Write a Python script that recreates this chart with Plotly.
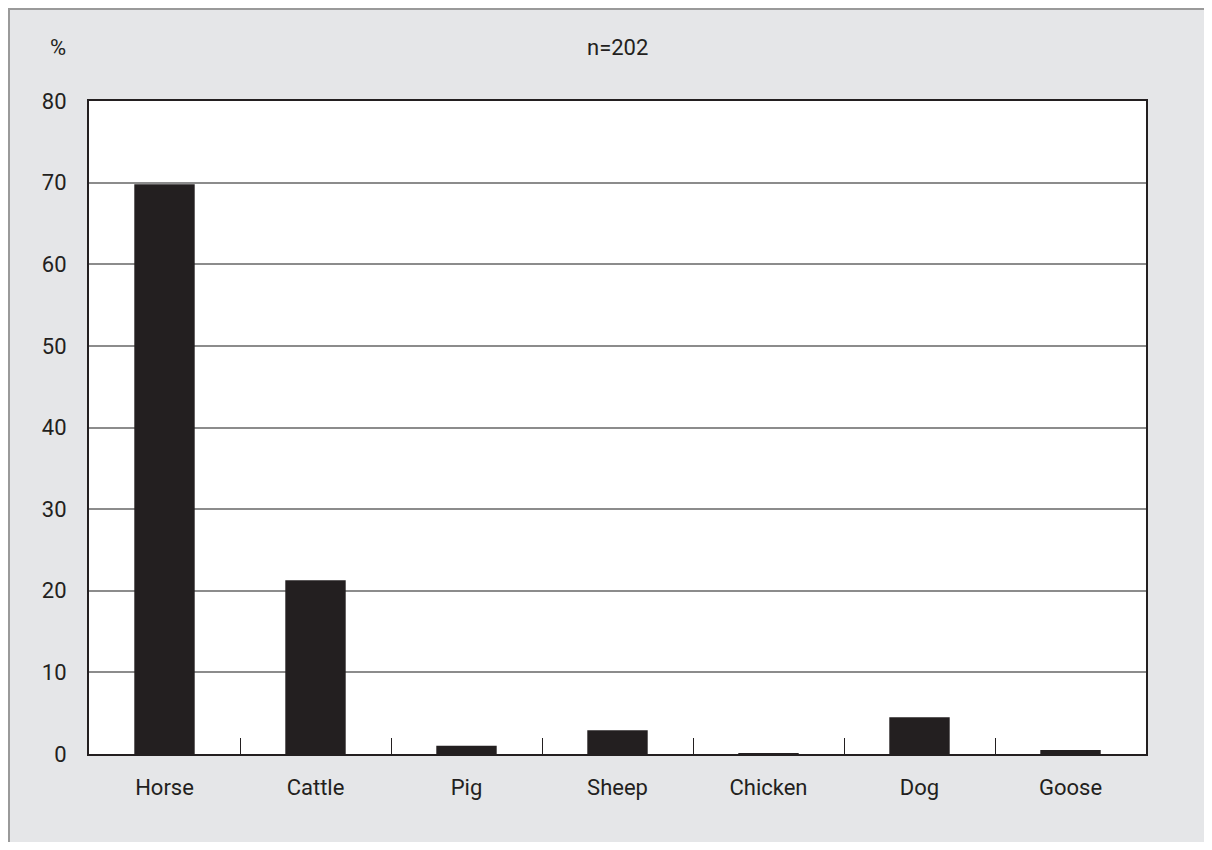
import plotly.graph_objects as go

categories = ["Horse", "Cattle", "Pig", "Sheep", "Chicken", "Dog", "Goose"]
percent = [69.8, 21.3, 1.0, 2.9, 0.05, 4.5, 0.5]
y_ticks = [0, 10, 20, 30, 40, 50, 60, 70, 80]

BG = "#e5e6e8"
INK = "#231f20"
GRID = "#8c8c8c"
FONT = "Roboto, sans-serif"

# page body has an 8px margin, so the figure is sized to fit inside it
W, H = 1196, 834
L, T = 81, 93
pw, ph = 1057, 653
R, B = W - L - pw, H - T - ph

fig = go.Figure()
fig.add_trace(
    go.Bar(
        x=categories,
        y=percent,
        marker_color=INK,
        marker_line_width=0,
        width=0.4,
        showlegend=False,
    )
)

fig.update_layout(
    width=W, height=H,
    margin=dict(l=L, r=R, t=T, b=B),
    paper_bgcolor=BG,
    plot_bgcolor="white",
    font=dict(family=FONT, size=22, color=INK),
)

fig.update_xaxes(
    showline=True, linecolor=INK, linewidth=2, mirror=True,
    ticks="inside", tickson="boundaries", ticklen=16, tickcolor=INK, tickwidth=1,
    showgrid=False, ticklabelstandoff=13,
)
fig.update_yaxes(
    range=[0, 80], tickvals=y_ticks,
    showline=True, linecolor=INK, linewidth=2, mirror=True,
    showgrid=True, gridcolor=GRID, gridwidth=1.5,
    zeroline=False, ticks="", ticklabelstandoff=16,
)

# outer frame along the left and top edges
fig.add_shape(
    type="rect", xref="paper", yref="paper", layer="below",
    x0=-(L - 1) / pw, x1=1 + (R + 20) / pw,
    y0=-(B + 20) / ph, y1=1 + (T - 1) / ph,
    line=dict(color="#9a9a9a", width=2), fillcolor="rgba(0,0,0,0)",
)

label_y = 1 + (T - 39) / ph
fig.add_annotation(
    text="%", xref="paper", yref="paper",
    x=(50 - L) / pw, y=label_y, xanchor="center", yanchor="middle",
    showarrow=False, font=dict(size=22),
)
fig.add_annotation(
    text="n=202", xref="paper", yref="paper",
    x=0.5, y=label_y, xanchor="center", yanchor="middle",
    showarrow=False, font=dict(size=22),
)

fig.write_html("out.html")
